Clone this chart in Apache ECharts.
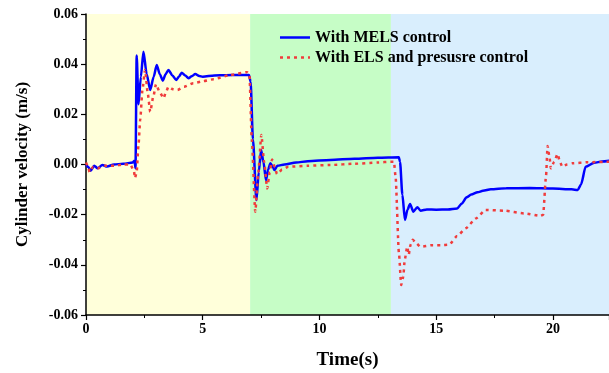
<!DOCTYPE html>
<html>
<head>
<meta charset="utf-8">
<script src="https://cdn.jsdelivr.net/npm/echarts@6/dist/echarts.min.js"></script>
<style>
html,body{margin:0;padding:0;background:#fff;}
#c{width:609px;height:373px;}
</style>
</head>
<body>
<div id="c"></div>
<script>
const seriesNames = ['With MELS control', 'With ELS and presusre control'];
const phaseBounds = [0, 7.03, 13.06, 22.4];
const phaseColors = ['#FFFFDA', '#C6FDC6', '#D9EEFD'];

const timeMELS = [0, 0.1, 0.2, 0.35, 0.5, 0.7, 0.9, 1.2, 1.6, 2.0, 2.08, 2.12, 2.17, 2.25, 2.35, 2.46, 2.6, 2.75, 2.9, 3.03, 3.16, 3.29, 3.41, 3.53, 3.7, 3.86, 3.98, 4.1, 4.25, 4.39, 4.53, 4.68, 4.85, 5.0, 5.5, 6.0, 6.5, 6.98, 7.05, 7.15, 7.3, 7.4, 7.5, 7.6, 7.71, 7.8, 7.9, 8.0, 8.07, 8.2, 8.5, 9.0, 9.5, 10.47, 11.5, 12.5, 13.4, 13.45, 13.55, 13.66, 13.77, 13.88, 14.02, 14.19, 14.33, 14.6, 15.0, 15.5, 15.9, 16.1, 16.3, 16.5, 16.77, 17.0, 17.34, 18.0, 19.0, 20.0, 20.8, 21.06, 21.2, 21.4, 21.77, 22.1, 22.45];
const velMELS = [0, -0.001, -0.0025, -0.0005, -0.0015, -0.0002, -0.0008, 0, 0.0003, 0.0008, 0.0015, -0.0015, 0.0435, 0.024, 0.035, 0.045, 0.036, 0.0297, 0.035, 0.0397, 0.036, 0.0334, 0.036, 0.0377, 0.0355, 0.0337, 0.035, 0.0366, 0.0355, 0.0344, 0.0352, 0.0361, 0.0353, 0.035, 0.0355, 0.0356, 0.0357, 0.0357, 0.033, 0.01, -0.0142, -0.003, 0.0058, 0.001, -0.0062, -0.002, 0.0005, -0.001, -0.0022, -0.0005, 0.0, 0.0008, 0.0013, 0.0018, 0.0023, 0.0027, 0.0029, 0.001, -0.012, -0.0221, -0.018, -0.0157, -0.0188, -0.017, -0.0184, -0.0179, -0.018, -0.0179, -0.0175, -0.0155, -0.0131, -0.012, -0.0111, -0.0105, -0.0099, -0.0095, -0.0094, -0.0096, -0.0099, -0.0102, -0.008, -0.0009, 0.0007, 0.0012, 0.0015];

const timeELS = [0, 0.1, 0.15, 0.3, 0.5, 0.8, 1.2, 1.6, 1.9, 2.05, 2.1, 2.17, 2.25, 2.32, 2.42, 2.53, 2.65, 2.75, 2.88, 3.0, 3.15, 3.32, 3.43, 3.53, 3.72, 3.92, 4.2, 4.6, 5.0, 5.47, 6.18, 6.9, 7.0, 7.1, 7.25, 7.38, 7.51, 7.63, 7.76, 7.87, 7.97, 8.08, 8.18, 8.4, 8.67, 9.5, 10.47, 11.5, 12.5, 13.05, 13.19, 13.26, 13.4, 13.5, 13.59, 13.65, 13.76, 13.82, 13.9, 14.0, 14.1, 14.33, 14.8, 15.2, 15.55, 15.9, 16.27, 16.7, 17.12, 17.9, 18.77, 19.48, 19.58, 19.7, 19.77, 19.85, 19.91, 20.05, 20.2, 20.3, 20.4, 20.6, 20.84, 21.48, 22.45];
const velELS = [0.0008, -0.001, -0.003, -0.001, -0.0015, -0.0005, -0.0005, 0.0, 0.0, -0.0025, -0.0054, -0.003, 0.008, 0.0177, 0.03, 0.0377, 0.028, 0.021, 0.027, 0.032, 0.029, 0.0264, 0.029, 0.031, 0.030, 0.0297, 0.031, 0.0324, 0.0332, 0.034, 0.0357, 0.0368, 0.036, 0.01, -0.0188, -0.003, 0.0118, 0.001, -0.0095, -0.003, 0.002, -0.001, -0.0038, -0.002, -0.0009, -0.0005, -0.0002, 0.0003, 0.0008, 0.0011, 0.0011, -0.005, -0.035, -0.048, -0.0447, -0.038, -0.0328, -0.036, -0.032, -0.030, -0.031, -0.0328, -0.0322, -0.0322, -0.032, -0.0285, -0.0254, -0.0215, -0.0181, -0.0184, -0.0195, -0.0205, -0.02, -0.005, 0.0074, 0.003, -0.0015, 0.001, 0.0042, 0.001, -0.0009, 0.0, 0.0005, 0.0009, 0.0011];

const xTicks = { min: 0, max: 22.4, interval: 5 };
const yTicks = { min: -0.06, max: 0.06, interval: 0.02 };

const font = 'Liberation Serif, Times New Roman, serif';
const blue = '#0000FF';
const red = '#F03C3C';
const redDash = [3, 4];
const zip = (a, b) => a.map((t, i) => [t, b[i]]);

const areas = [];
for (let i = 0; i < phaseColors.length; i++) {
  areas.push([{ xAxis: phaseBounds[i], itemStyle: { color: phaseColors[i] } }, { xAxis: phaseBounds[i + 1] }]);
}

const chart = echarts.init(document.getElementById('c'), null, { renderer: 'canvas' });
chart.setOption({
  animation: false,
  backgroundColor: '#ffffff',
  grid: { left: 86, right: 0, top: 14, bottom: 58, containLabel: false, outerBoundsMode: 'none' },
  graphic: [
    { type: 'line', z: 100, shape: { x1: 280, y1: 37.5, x2: 310, y2: 37.5 }, style: { stroke: blue, lineWidth: 2.5 } },
    { type: 'text', z: 100, x: 315, y: 38, style: { text: seriesNames[0], fill: '#000', font: 'bold 16px ' + font, verticalAlign: 'middle', align: 'left' } },
    { type: 'line', z: 100, shape: { x1: 280, y1: 57.5, x2: 310, y2: 57.5 }, style: { stroke: red, lineWidth: 2.5, lineDash: redDash } },
    { type: 'text', z: 100, x: 315, y: 58, style: { text: seriesNames[1], fill: '#000', font: 'bold 16px ' + font, verticalAlign: 'middle', align: 'left' } }
  ],
  xAxis: {
    type: 'value', min: xTicks.min, max: xTicks.max, interval: xTicks.interval,
    name: 'Time(s)', nameLocation: 'middle', nameGap: 36,
    nameTextStyle: { fontFamily: font, fontWeight: 'bold', fontSize: 19, color: '#000' },
    axisLine: { show: true, onZero: false, lineStyle: { color: '#000', width: 1.5 } },
    axisTick: { show: true, inside: false, length: 5, lineStyle: { color: '#000', width: 1.2 } },
    minorTick: { show: true, splitNumber: 2, length: 3, lineStyle: { color: '#000', width: 1 } },
    splitLine: { show: false },
    axisLabel: { showMaxLabel: false, margin: 7, fontFamily: font, fontWeight: 'bold', fontSize: 14, color: '#000',
      formatter: v => (Math.abs(v % 5) < 1e-9 ? String(v) : '') }
  },
  yAxis: {
    type: 'value', min: yTicks.min, max: yTicks.max, interval: yTicks.interval,
    name: 'Cylinder velocity (m/s)', nameLocation: 'middle', nameGap: 55, nameRotate: 90,
    nameTextStyle: { fontFamily: font, fontWeight: 'bold', fontSize: 17, color: '#000' },
    axisLine: { show: true, onZero: false, lineStyle: { color: '#000', width: 1.5 } },
    axisTick: { show: true, inside: false, length: 5, lineStyle: { color: '#000', width: 1.2 } },
    minorTick: { show: true, splitNumber: 2, length: 3, lineStyle: { color: '#000', width: 1 } },
    splitLine: { show: false },
    axisLabel: { margin: 8, fontFamily: font, fontWeight: 'bold', fontSize: 14, color: '#000',
      formatter: v => v.toFixed(2) }
  },
  series: [
    {
      name: seriesNames[0], type: 'line', data: zip(timeMELS, velMELS), showSymbol: false, symbol: 'none',
      clip: true, z: 3, smooth: 0.25, smoothMonotone: 'x',
      lineStyle: { color: blue, width: 2.5 }, itemStyle: { color: blue },
      markArea: { silent: true, z: 0, data: areas }
    },
    {
      name: seriesNames[1], type: 'line', data: zip(timeELS, velELS), showSymbol: false, symbol: 'none',
      clip: true, z: 4, smooth: 0.2, smoothMonotone: 'x',
      lineStyle: { color: red, width: 2.5, type: redDash }, itemStyle: { color: red }
    }
  ]
});
</script>
</body>
</html>
